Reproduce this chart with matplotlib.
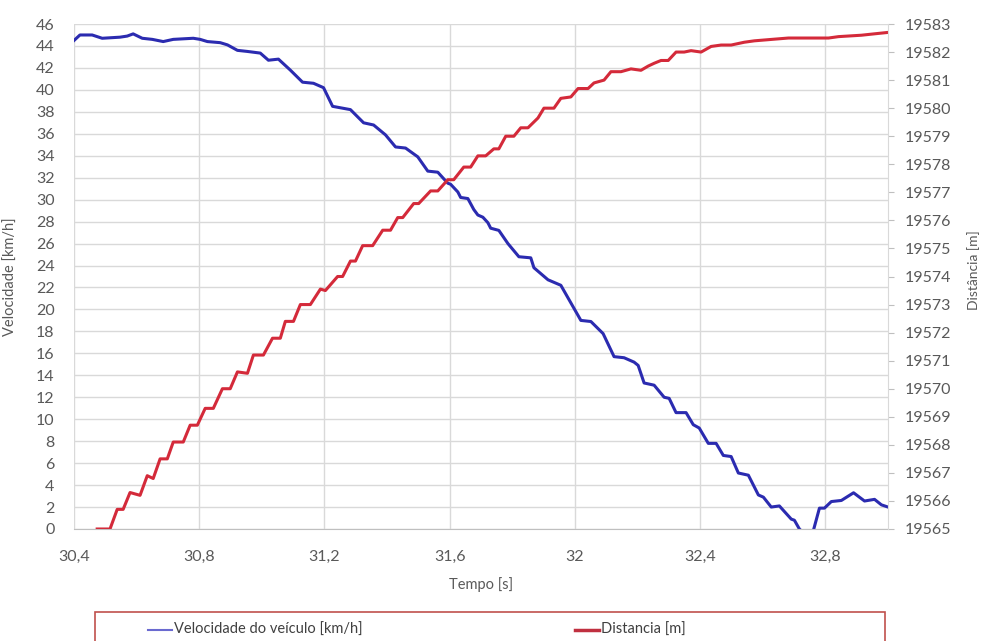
import matplotlib.pyplot as plt
from matplotlib.lines import Line2D
from matplotlib.patches import Rectangle

plt.rcParams['font.family'] = ['Lato', 'DejaVu Sans']

# velocidade do veiculo (km/h)
tempo_vel = [30.400, 30.419, 30.458, 30.490, 30.547, 30.570, 30.589, 30.618, 30.650, 30.685,
             30.717, 30.781, 30.803, 30.826, 30.867, 30.890, 30.922, 30.954, 30.995, 31.021,
             31.053, 31.091, 31.130, 31.165, 31.197, 31.226, 31.283, 31.325, 31.357, 31.395,
             31.427, 31.459, 31.498, 31.530, 31.562, 31.581, 31.594, 31.603, 31.626, 31.635,
             31.658, 31.677, 31.690, 31.706, 31.722, 31.731, 31.757, 31.786, 31.821, 31.859,
             31.869, 31.914, 31.955, 31.987, 32.019, 32.051, 32.090, 32.125, 32.157, 32.189,
             32.202, 32.221, 32.253, 32.285, 32.301, 32.323, 32.355, 32.378, 32.397, 32.426,
             32.451, 32.474, 32.499, 32.522, 32.554, 32.586, 32.602, 32.627, 32.653, 32.691,
             32.701, 32.717, 32.739, 32.762, 32.781, 32.797, 32.819, 32.851, 32.890, 32.925,
             32.957, 32.979, 33.000]
velocidade = [44.5, 45.0, 45.0, 44.7, 44.8, 44.9, 45.1, 44.7, 44.6, 44.4,
              44.6, 44.7, 44.6, 44.4, 44.3, 44.1, 43.6, 43.5, 43.35, 42.7,
              42.8, 41.8, 40.7, 40.6, 40.2, 38.5, 38.2, 37.0, 36.8, 35.9,
              34.8, 34.7, 33.9, 32.6, 32.5, 31.9, 31.5, 31.4, 30.7, 30.2,
              30.1, 29.1, 28.6, 28.4, 27.9, 27.4, 27.2, 26.0, 24.8, 24.7,
              23.8, 22.7, 22.2, 20.6, 19.0, 18.9, 17.8, 15.7, 15.6, 15.2,
              14.9, 13.3, 13.1, 12.0, 11.9, 10.6, 10.6, 9.5, 9.2, 7.8,
              7.8, 6.7, 6.6, 5.1, 4.9, 3.1, 2.9, 2.0, 2.1, 0.9,
              0.8, 0.0, -0.6, -0.1, 1.9, 1.9, 2.5, 2.6, 3.3, 2.55,
              2.7, 2.2, 2.0]

# distancia (m)
tempo_dist = [30.474, 30.515, 30.538, 30.557, 30.579, 30.611, 30.634, 30.653, 30.675, 30.698,
              30.717, 30.749, 30.771, 30.794, 30.819, 30.845, 30.874, 30.899, 30.922, 30.954,
              30.973, 31.005, 31.034, 31.059, 31.075, 31.101, 31.123, 31.155, 31.187, 31.203,
              31.242, 31.258, 31.283, 31.299, 31.322, 31.354, 31.386, 31.411, 31.434, 31.450,
              31.485, 31.501, 31.539, 31.562, 31.594, 31.613, 31.645, 31.667, 31.690, 31.715,
              31.741, 31.757, 31.779, 31.805, 31.827, 31.850, 31.882, 31.901, 31.933, 31.955,
              31.987, 32.010, 32.042, 32.061, 32.093, 32.115, 32.147, 32.179, 32.211, 32.234,
              32.253, 32.275, 32.298, 32.323, 32.349, 32.371, 32.403, 32.435, 32.467, 32.499,
              32.541, 32.573, 32.627, 32.682, 32.810, 32.842, 32.915, 32.957, 33.000]
distancia = [19565.0, 19565.0, 19565.7, 19565.7, 19566.3, 19566.2, 19566.9, 19566.8, 19567.5, 19567.5,
             19568.1, 19568.1, 19568.7, 19568.7, 19569.3, 19569.3, 19570.0, 19570.0, 19570.6, 19570.55,
             19571.2, 19571.2, 19571.8, 19571.8, 19572.4, 19572.4, 19573.0, 19573.0, 19573.55, 19573.5,
             19574.0, 19574.0, 19574.55, 19574.55, 19575.1, 19575.1, 19575.65, 19575.65, 19576.1, 19576.1,
             19576.6, 19576.6, 19577.05, 19577.05, 19577.45, 19577.45, 19577.9, 19577.9, 19578.3, 19578.3,
             19578.55, 19578.55, 19579.0, 19579.0, 19579.3, 19579.3, 19579.65, 19580.0, 19580.0, 19580.35,
             19580.4, 19580.7, 19580.7, 19580.9, 19581.0, 19581.3, 19581.3, 19581.4, 19581.35, 19581.5,
             19581.6, 19581.7, 19581.7, 19582.0, 19582.0, 19582.05, 19582.0, 19582.2, 19582.25, 19582.25,
             19582.35, 19582.4, 19582.45, 19582.5, 19582.5, 19582.55, 19582.6, 19582.65, 19582.7]

x_ticks = [30.4, 30.8, 31.2, 31.6, 32.0, 32.4, 32.8]
x_labels = ['30,4', '30,8', '31,2', '31,6', '32', '32,4', '32,8']
vel_ticks = list(range(0, 47, 2))
dist_ticks = list(range(19565, 19584))

azul = '#2b2bb0'
vermelho = '#d42a3a'
cinza = '#595959'
grade = '#d9d9d9'

fig = plt.figure(figsize=(9.84, 6.41), dpi=100)
ax = fig.add_axes([74 / 984, 1 - 529 / 641, 814 / 984, 505 / 641])

ax.plot(tempo_vel, velocidade, color=azul, lw=2.2, solid_joinstyle='round')
ax.set_xlim(30.4, 33.0)
ax.set_ylim(0, 46)
ax.set_xticks(x_ticks)
ax.set_xticklabels(x_labels)
ax.set_yticks(vel_ticks)
ax.grid(True, color=grade, lw=1)
ax.set_axisbelow(True)
ax.tick_params(axis='both', length=0, labelsize=11.5, labelcolor=cinza)
ax.tick_params(axis='x', pad=15)
ax.tick_params(axis='y', pad=14)
for lado in ['top', 'right', 'left']:
    ax.spines[lado].set_visible(False)
ax.spines['bottom'].set_color('#bfbfbf')

ax.set_ylabel('Velocidade [km/h]', fontsize=10.5, color=cinza)
ax.yaxis.set_label_coords(-0.069, 0.5)
ax.set_xlabel('Tempo [s]', fontsize=10.5, color=cinza)
ax.xaxis.set_label_coords(0.5, -0.095)

ax2 = ax.twinx()
ax2.plot(tempo_dist, distancia, color=vermelho, lw=2.2, solid_joinstyle='round')
ax2.set_ylim(19565, 19583)
ax2.set_yticks(dist_ticks)
ax2.tick_params(axis='y', length=4, color='#bfbfbf', labelsize=11.5, labelcolor=cinza, pad=8)
for lado in ['top', 'left', 'bottom']:
    ax2.spines[lado].set_visible(False)
ax2.spines['right'].set_color(grade)
fig.text(974 / 984, 1 - 270 / 641, 'Distância [m]', fontsize=10, color=cinza,
         rotation=90, ha='center', va='center')

# legenda (caixa cortada na parte de baixo, como no original)
fig.patches.append(Rectangle((95 / 984, -0.05), 790 / 984, 0.05 + (641 - 612) / 641,
                             transform=fig.transFigure, fill=False,
                             edgecolor='#c0504d', lw=1.2))
y_leg = 1 - 630 / 641
fig.lines.append(Line2D([148 / 984, 172 / 984], [y_leg, y_leg], transform=fig.transFigure,
                        color='#6a6ad0', lw=1.5))
fig.text(174 / 984, y_leg, 'Velocidade do veículo [km/h]', fontsize=10.5, color='#404040',
         va='center', ha='left')
fig.lines.append(Line2D([575 / 984, 599 / 984], [y_leg, y_leg], transform=fig.transFigure,
                        color='#c03040', lw=2.5))
fig.text(601 / 984, y_leg, 'Distancia [m]', fontsize=10.5, color='#404040',
         va='center', ha='left')

fig.savefig('out.png', dpi=100)
